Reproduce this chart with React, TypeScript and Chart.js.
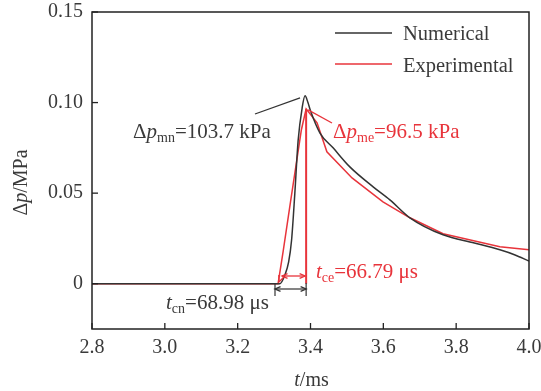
import React, { useEffect, useRef } from "react";
import { Chart, registerables } from "chart.js";
Chart.register(...registerables);

// ---- data ----
const numT = [2.8, 3.0, 3.2, 3.3, 3.316, 3.33, 3.34, 3.348, 3.357, 3.366, 3.377, 3.385, 3.393, 3.40, 3.426, 3.462, 3.508, 3.572, 3.618, 3.673, 3.764, 3.85, 3.92, 3.96, 4.0];
const numP = [0, 0, 0, 0, 0, 0.005, 0.012, 0.024, 0.05, 0.079, 0.097, 0.1037, 0.1, 0.0955, 0.0832, 0.075, 0.0645, 0.0535, 0.0463, 0.0364, 0.027, 0.0225, 0.0187, 0.016, 0.0125];
const expT = [2.8, 3.0, 3.2, 3.3, 3.311, 3.325, 3.345, 3.36, 3.375, 3.388, 3.418, 3.445, 3.514, 3.599, 3.673, 3.764, 3.92, 4.0];
const expP = [0, 0, 0, 0, 0, 0.018, 0.045, 0.065, 0.085, 0.0965, 0.0888, 0.0728, 0.0584, 0.0452, 0.0364, 0.0276, 0.0204, 0.0187];
const xTicks = [2.8, 3.0, 3.2, 3.4, 3.6, 3.8, 4.0];
const yTicks = [0, 0.05, 0.1, 0.15];
const seriesNames = ["Numerical", "Experimental"];
const peakNumKPa = "103.7";
const peakExpKPa = "96.5";
const tcnUs = "68.98";
const tceUs = "66.79";

const FONT = '"Liberation Serif", "Times New Roman", serif';
const BLACK = "#333333";
const RED = "#e8343b";
const TXT = "#3a3a3a";
const ANN = 21;
const LEG = 20.5;
const TICK = 20;

type Part = { t: string; it?: boolean; sub?: boolean };

function drawRich(ctx: CanvasRenderingContext2D, parts: Part[], x: number, y: number, size: number, color: string) {
  ctx.save();
  ctx.fillStyle = color;
  ctx.textBaseline = "alphabetic";
  ctx.textAlign = "left";
  let cx = x;
  for (const p of parts) {
    const s = p.sub ? Math.round(size * 0.66) : size;
    ctx.font = `${p.it ? "italic " : ""}${s}px ${FONT}`;
    ctx.fillText(p.t, cx, p.sub ? y + size * 0.2 : y);
    cx += ctx.measureText(p.t).width;
  }
  ctx.restore();
  return cx - x;
}

function richWidth(ctx: CanvasRenderingContext2D, parts: Part[], size: number) {
  ctx.save();
  let w = 0;
  for (const p of parts) {
    const s = p.sub ? Math.round(size * 0.66) : size;
    ctx.font = `${p.it ? "italic " : ""}${s}px ${FONT}`;
    w += ctx.measureText(p.t).width;
  }
  ctx.restore();
  return w;
}

function arrowHead(ctx: CanvasRenderingContext2D, x: number, y: number, ang: number, len: number, color: string) {
  ctx.save();
  ctx.strokeStyle = color;
  ctx.lineWidth = 1.3;
  ctx.beginPath();
  ctx.moveTo(x - len * Math.cos(ang - 0.4), y - len * Math.sin(ang - 0.4));
  ctx.lineTo(x, y);
  ctx.lineTo(x - len * Math.cos(ang + 0.4), y - len * Math.sin(ang + 0.4));
  ctx.stroke();
  ctx.restore();
}

function line(ctx: CanvasRenderingContext2D, x1: number, y1: number, x2: number, y2: number, color: string, w: number) {
  ctx.save();
  ctx.strokeStyle = color;
  ctx.lineWidth = w;
  ctx.beginPath();
  ctx.moveTo(x1, y1);
  ctx.lineTo(x2, y2);
  ctx.stroke();
  ctx.restore();
}

const decorPlugin = {
  id: "decor",
  afterDraw(chart: any) {
    const ctx: CanvasRenderingContext2D = chart.ctx;
    const { left, right, top, bottom } = chart.chartArea;
    const xs = chart.scales.x;
    const ys = chart.scales.y;
    const X = (v: number) => xs.getPixelForValue(v);
    const Y = (v: number) => ys.getPixelForValue(v);

    // frame
    ctx.save();
    ctx.strokeStyle = "#222";
    ctx.lineWidth = 1.5;
    ctx.strokeRect(left, top, right - left, bottom - top);
    for (const v of xTicks) {
      const px = X(v);
      line(ctx, px, bottom, px, bottom - 6, "#222", 1.3);
    }
    for (const v of yTicks) {
      const py = Y(v);
      line(ctx, left, py, left + 6, py, "#222", 1.3);
    }
    ctx.restore();

    // legend
    line(ctx, 335, 33, 392, 33, BLACK, 1.4);
    line(ctx, 335, 64, 392, 64, RED, 1.4);
    drawRich(ctx, [{ t: seriesNames[0] }], 403, 40, LEG, TXT);
    drawRich(ctx, [{ t: seriesNames[1] }], 403, 72, LEG, TXT);

    // red vertical marker at experimental peak
    const pPk = Math.max(...expP);
    const tPk = expT[expP.indexOf(pPk)];
    line(ctx, X(tPk), Y(0), X(tPk), Y(pPk), RED, 2);

    // leaders
    const nPk = Math.max(...numP);
    const tNpk = numT[numP.indexOf(nPk)];
    line(ctx, 255, 114, X(tNpk) - 5, Y(nPk) + 2, BLACK, 1.3);
    line(ctx, X(tPk) + 2, Y(pPk) + 1, 332, 123, RED, 1.3);

    // labels
    drawRich(ctx, [{ t: "Δ" }, { t: "p", it: true }, { t: "mn", sub: true }, { t: "=" + peakNumKPa + " kPa" }], 133, 138, ANN, TXT);
    drawRich(ctx, [{ t: "Δ" }, { t: "p", it: true }, { t: "me", sub: true }, { t: "=" + peakExpKPa + " kPa" }], 333, 138, ANN, RED);

    // black dimension (t_cn)
    const xa = 275, xb = X(tPk);
    const yDim = 289;
    line(ctx, xa, 283, xa, 296, BLACK, 1.2);
    line(ctx, xb, 283, xb, 296, BLACK, 1.2);
    line(ctx, xa, yDim, xb, yDim, BLACK, 1.2);
    arrowHead(ctx, xa, yDim, Math.PI, 6, BLACK);
    arrowHead(ctx, xb, yDim, 0, 6, BLACK);

    // red dimension (t_ce)
    const xr = 282;
    line(ctx, xr, 276, xb - 1, 276, RED, 1.3);
    arrowHead(ctx, xr, 276, Math.PI, 6, RED);
    arrowHead(ctx, xb - 1, 276, 0, 6, RED);
    arrowHead(ctx, 279, 282, Math.PI * 0.62, 7, RED);

    drawRich(ctx, [{ t: "t", it: true }, { t: "cn", sub: true }, { t: "=" + tcnUs + " μs" }], 166, 309, ANN, TXT);
    drawRich(ctx, [{ t: "t", it: true }, { t: "ce", sub: true }, { t: "=" + tceUs + " μs" }], 316, 278, ANN, RED);

    // axis titles
    const xt: Part[] = [{ t: "t", it: true }, { t: "/ms" }];
    const wx = richWidth(ctx, xt, TICK);
    drawRich(ctx, xt, (left + right) / 2 - wx / 2 + 1, 386, TICK, TXT);
    ctx.save();
    ctx.translate(27, (top + bottom) / 2 + 12);
    ctx.rotate(-Math.PI / 2);
    const yt: Part[] = [{ t: "Δ" }, { t: "p", it: true }, { t: "/MPa" }];
    const wy = richWidth(ctx, yt, TICK);
    drawRich(ctx, yt, -wy / 2, 0, TICK, TXT);
    ctx.restore();
  },
};

export default function App() {
  const ref = useRef<HTMLCanvasElement | null>(null);
  useEffect(() => {
    document.body.style.margin = "0";
    const canvas = ref.current!;
    const chart = new Chart(canvas, {
      type: "line",
      data: {
        datasets: [
          {
            label: seriesNames[0],
            data: numT.map((t, i) => ({ x: t, y: numP[i] })),
            borderColor: BLACK,
            borderWidth: 1.5,
            pointRadius: 0,
            cubicInterpolationMode: "monotone",
          },
          {
            label: seriesNames[1],
            data: expT.map((t, i) => ({ x: t, y: expP[i] })),
            borderColor: RED,
            borderWidth: 1.5,
            pointRadius: 0,
            tension: 0,
          },
        ],
      },
      options: {
        animation: false,
        responsive: false,
        maintainAspectRatio: false,
        layout: { padding: { top: 12, right: 12, left: 0, bottom: 0 } },
        plugins: { legend: { display: false }, tooltip: { enabled: false } },
        scales: {
          x: {
            type: "linear",
            min: 2.8,
            max: 4.0,
            grid: { display: false, drawTicks: false },
            border: { display: false },
            afterBuildTicks: (s: any) => {
              s.ticks = xTicks.map((v) => ({ value: v }));
            },
            afterFit: (s: any) => {
              s.height = 62;
              s.paddingLeft = 0;
              s.paddingRight = 0;
            },
            ticks: {
              padding: 7,
              color: TXT,
              font: { family: FONT, size: TICK },
              maxRotation: 0,
              callback: (v: any) => Number(v).toFixed(1),
            },
          },
          y: {
            min: -0.025,
            max: 0.15,
            grid: { display: false, drawTicks: false },
            border: { display: false },
            afterBuildTicks: (s: any) => {
              s.ticks = yTicks.map((v) => ({ value: v }));
            },
            afterFit: (s: any) => {
              s.width = 92;
              s.paddingTop = 0;
              s.paddingBottom = 0;
            },
            ticks: {
              padding: 9,
              color: TXT,
              font: { family: FONT, size: TICK },
              callback: (v: any) => (Number(v) === 0 ? "0" : Number(v).toFixed(2)),
            },
          },
        },
      },
      plugins: [decorPlugin],
    } as any);
    return () => chart.destroy();
  }, []);
  return <canvas ref={ref} width={541} height={391} style={{ display: "block", width: 541, height: 391 }} />;
}
